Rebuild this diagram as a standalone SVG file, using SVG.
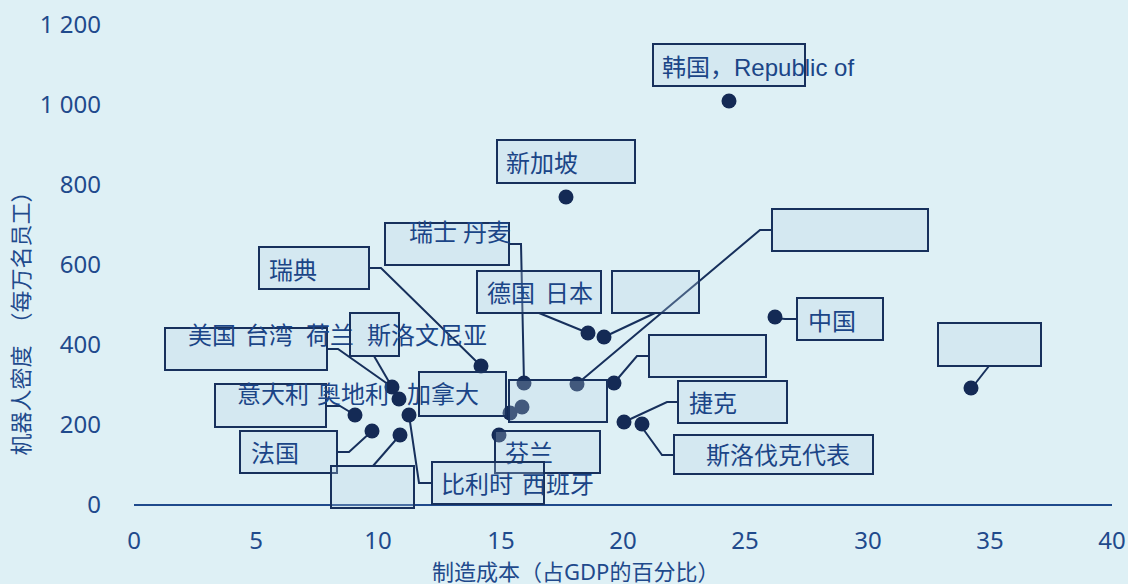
<svg xmlns="http://www.w3.org/2000/svg" width="1128" height="584" viewBox="0 0 1128 584">
<style>
.t{font-family:"Noto Sans","Noto Sans CJK SC",sans-serif;font-size:24px;fill:#1b4587}
.ax{font-family:"Noto Sans","Noto Sans CJK SC",sans-serif;font-size:24px;fill:#1f4a8c}
.at{font-family:"Noto Sans","Noto Sans CJK SC",sans-serif;font-size:22px;fill:#1f4a8c}
.box{fill:#bcd5e6;fill-opacity:0.28;stroke:#17305c;stroke-width:2}
.ln{fill:none;stroke:#17305c;stroke-width:2}
.dot{fill:#142a55}
</style>
<rect width="1128" height="584" fill="#def0f5"/>
<g id="axes">
<line x1="134" y1="505" x2="1112" y2="505" stroke="#1f4a8c" stroke-width="2"/>
<g class="ax" text-anchor="end">
<text x="101" y="513">0</text>
<text x="101" y="433">200</text>
<text x="101" y="353">400</text>
<text x="101" y="273">600</text>
<text x="101" y="193">800</text>
<text x="101" y="113">1 000</text>
<text x="101" y="33">1 200</text>
</g>
<g class="ax" text-anchor="middle">
<text x="134" y="549">0</text>
<text x="256" y="549">5</text>
<text x="378" y="549">10</text>
<text x="501" y="549">15</text>
<text x="623" y="549">20</text>
<text x="745" y="549">25</text>
<text x="868" y="549">30</text>
<text x="990" y="549">35</text>
<text x="1112" y="549">40</text>
</g>
<text class="at" x="432" y="580">制造成本（占GDP的百分比）</text>
<text class="at" transform="translate(29,318) rotate(-90)" text-anchor="middle">机器人密度　（每万名员工）</text>
</g>
<g id="connectors">
<polyline class="ln" points="369,268 381,268 481,366"/>
<polyline class="ln" points="509,244 521,244 524,383"/>
<polyline class="ln" points="327,349 338,349 392,387"/>
<polyline class="ln" points="374,356 392,387"/>
<polyline class="ln" points="326,406 340,406 355,415"/>
<polyline class="ln" points="337,452 349,452 372,431"/>
<polyline class="ln" points="373,466 400,435"/>
<polyline class="ln" points="432,483 419,483 409,415"/>
<polyline class="ln" points="539,313 588,333"/>
<polyline class="ln" points="655,313 604,337"/>
<polyline class="ln" points="772,230 760,230 577,384"/>
<polyline class="ln" points="649,356 637,356 614,383"/>
<polyline class="ln" points="775,318 785,319 797,319"/>
<polyline class="ln" points="678,402 667,402 624,422"/>
<polyline class="ln" points="674,455 662,455 641,426"/>
<polyline class="ln" points="989,366 971,389"/>
</g>
<g id="points">
<circle class="dot" cx="729" cy="101" r="7.5"/>
<circle class="dot" cx="566" cy="197" r="7.5"/>
<circle class="dot" cx="481" cy="366" r="7.5"/>
<circle class="dot" cx="524" cy="383" r="7.5"/>
<circle class="dot" cx="588" cy="333" r="7.5"/>
<circle class="dot" cx="604" cy="337" r="7.5"/>
<circle class="dot" cx="775" cy="317" r="7.5"/>
<circle class="dot" cx="971" cy="388" r="7.5"/>
<circle class="dot" cx="614" cy="383" r="7.5"/>
<circle class="dot" cx="577" cy="384" r="7.5"/>
<circle class="dot" cx="392" cy="387" r="7.5"/>
<circle class="dot" cx="399" cy="399" r="7.5"/>
<circle class="dot" cx="409" cy="415" r="7.5"/>
<circle class="dot" cx="355" cy="415" r="7.5"/>
<circle class="dot" cx="372" cy="431" r="7.5"/>
<circle class="dot" cx="400" cy="435" r="7.5"/>
<circle class="dot" cx="510" cy="413" r="7.5"/>
<circle class="dot" cx="522" cy="407" r="7.5"/>
<circle class="dot" cx="499" cy="435" r="7.5"/>
<circle class="dot" cx="624" cy="422" r="7.5"/>
<circle class="dot" cx="642" cy="424" r="7.5"/>
</g>
<g id="label-korea"><rect class="box" x="653" y="44" width="152" height="42"/><text class="t" x="662" y="76">韩国，<tspan font-family="Liberation Sans, sans-serif">Republic of</tspan></text></g>
<g id="label-singapore"><rect class="box" x="497" y="140" width="138" height="43"/><text class="t" x="506" y="172">新加坡</text></g>
<g id="label-switzerland-denmark"><rect class="box" x="385" y="223" width="124" height="42"/><text class="t" y="241"><tspan x="409">瑞士</tspan><tspan x="463">丹麦</tspan></text></g>
<g id="label-sweden"><rect class="box" x="259" y="247" width="110" height="42"/><text class="t" x="269" y="279">瑞典</text></g>
<g id="label-germany-japan"><rect class="box" x="477" y="271" width="124" height="42"/><text class="t" y="302"><tspan x="487">德国</tspan><tspan x="545">日本</tspan></text></g>
<g id="label-empty-1"><rect class="box" x="612" y="271" width="87" height="42"/></g>
<g id="label-empty-2"><rect class="box" x="772" y="209" width="156" height="42"/></g>
<g id="label-china"><rect class="box" x="797" y="298" width="86" height="42"/><text class="t" x="808" y="330">中国</text></g>
<g id="label-us-taiwan-netherlands"><rect class="box" x="165" y="328" width="162" height="42"/><text class="t" y="344"><tspan x="188">美国</tspan><tspan x="245">台湾</tspan><tspan x="306">荷兰</tspan></text></g>
<g id="label-slovenia"><rect class="box" x="350" y="313" width="49" height="43"/><text class="t" x="367" y="344">斯洛文尼亚</text></g>
<g id="label-thailand"><rect class="box" x="938" y="323" width="103" height="43"/></g>
<g id="label-empty-3"><rect class="box" x="649" y="335" width="117" height="42"/></g>
<g id="label-canada"><rect class="box" x="419" y="372" width="87" height="44"/></g>
<g id="label-empty-4"><rect class="box" x="509" y="380" width="98" height="42"/></g>
<g id="label-italy-austria-canada"><rect class="box" x="215" y="384" width="111" height="43"/><text class="t" y="403"><tspan x="237">意大利</tspan><tspan x="317">奥地利</tspan><tspan x="407">加拿大</tspan></text></g>
<g id="label-czech"><rect class="box" x="678" y="381" width="109" height="42"/><text class="t" x="689" y="412">捷克</text></g>
<g id="label-france"><rect class="box" x="240" y="431" width="97" height="42"/><text class="t" x="251" y="462">法国</text></g>
<g id="label-finland"><rect class="box" x="495" y="431" width="105" height="42"/><text class="t" x="505" y="462">芬兰</text></g>
<g id="label-slovakia"><rect class="box" x="674" y="435" width="199" height="39"/><text class="t" x="706" y="464">斯洛伐克代表</text></g>
<g id="label-belgium-spain"><rect class="box" x="432" y="462" width="112" height="42"/><text class="t" y="493"><tspan x="441">比利时</tspan><tspan x="522">西班牙</tspan></text></g>
<g id="label-empty-5"><rect class="box" x="331" y="466" width="83" height="42"/></g>
</svg>
